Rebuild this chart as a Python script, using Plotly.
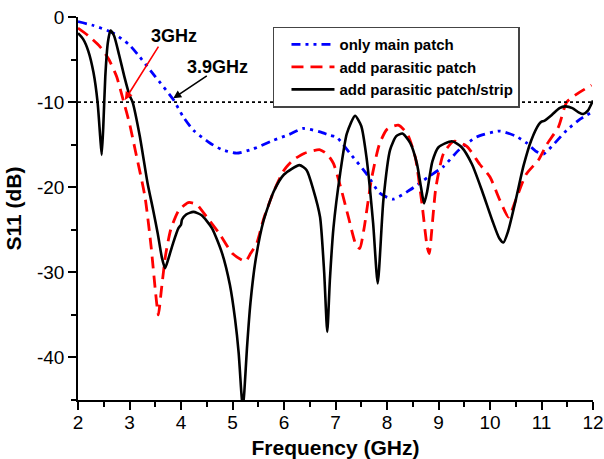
import plotly.graph_objects as go

# ---------------- data ----------------
freq_main = [2.00, 2.30, 2.69, 3.00, 3.20, 3.50, 3.85, 4.04, 4.24, 4.56, 4.80, 5.08,
             5.40, 5.79, 6.10, 6.37, 6.70, 6.89, 7.02, 7.15, 7.28, 7.60, 7.86, 8.12,
             8.45, 8.80, 9.09, 9.40, 9.74, 10.19, 10.50, 10.71, 10.90, 11.04, 11.20,
             11.49, 11.75, 12.00]
s11_main = [-0.55, -1.0, -1.9, -3.3, -4.7, -7.0, -9.7, -11.7, -13.3, -14.8, -15.6, -16.0,
            -15.5, -14.5, -13.8, -13.1, -13.5, -13.9, -14.1, -15.0, -16.0, -18.4, -20.7, -21.4,
            -20.3, -18.8, -17.6, -15.6, -14.1, -13.4, -14.0, -14.8, -15.8, -16.1, -15.2,
            -13.3, -12.0, -11.1]

freq_par = [2.00, 2.20, 2.43, 2.60, 2.75, 2.88, 3.00, 3.11, 3.30, 3.42, 3.50, 3.56,
            3.62, 3.70, 3.80, 3.95, 4.14, 4.30, 4.50, 4.75, 5.00, 5.25, 5.35, 5.47,
            5.60, 5.80, 6.00, 6.18, 6.40, 6.70, 6.85, 6.96, 7.10, 7.25, 7.40, 7.47,
            7.55, 7.70, 7.85, 8.00, 8.22, 8.40, 8.55, 8.68, 8.78, 8.82, 8.87, 8.95,
            9.10, 9.30, 9.55, 9.80, 10.00, 10.19, 10.36, 10.50, 10.70, 10.94, 11.10,
            11.33, 11.49, 11.70, 11.97]
s11_par = [-1.3, -2.2, -3.5, -5.0, -7.0, -9.8, -12.5, -15.6, -21.1, -27.0, -32.0, -35.0,
           -32.0, -28.0, -25.0, -22.8, -21.8, -22.0, -23.5, -25.5, -27.8, -28.7, -27.8, -26.6,
           -23.8, -20.5, -18.0, -16.8, -16.0, -15.6, -16.2, -17.2, -20.0, -23.5, -26.8, -27.2,
           -25.0, -19.0, -15.0, -13.2, -12.7, -13.8, -16.5, -22.0, -27.0, -27.8, -25.0, -20.0,
           -16.0, -14.6, -15.2, -17.3, -18.8, -21.5, -23.5, -21.5, -18.5, -16.8, -15.0,
           -12.9, -10.0, -9.0, -8.0]

freq_strip = [2.00, 2.10, 2.20, 2.30, 2.38, 2.43, 2.46, 2.49, 2.53, 2.58, 2.63, 2.70,
              2.80, 2.90, 3.00, 3.06, 3.20, 3.35, 3.46, 3.55, 3.63, 3.69, 3.75, 3.85,
              3.95, 4.00, 4.02, 4.10, 4.24, 4.40, 4.60, 4.80, 4.95, 5.05, 5.12, 5.17,
              5.20, 5.23, 5.28, 5.35, 5.45, 5.60, 5.80, 6.00, 6.30, 6.44, 6.57, 6.70,
              6.78, 6.84, 6.89, 6.96, 7.09, 7.22, 7.38, 7.50, 7.60, 7.73, 7.82, 7.93,
              8.06, 8.18, 8.30, 8.45, 8.58, 8.66, 8.72, 8.78, 8.88, 9.00, 9.26, 9.45,
              9.65, 9.85, 10.05, 10.18, 10.26, 10.35, 10.50, 10.65, 10.80, 10.95, 11.00,
              11.05, 11.20, 11.35, 11.46, 11.60, 11.72, 11.81, 11.90, 12.00]
s11_strip = [-1.9, -2.6, -4.0, -6.5, -10.0, -14.0, -16.2, -13.0, -7.0, -3.0, -1.6, -2.2,
             -4.5, -7.0, -9.2, -10.0, -14.0, -19.5, -22.7, -25.5, -28.3, -29.5, -28.5, -26.5,
             -24.8, -24.4, -23.8, -23.2, -22.9, -23.3, -24.8, -27.8, -31.5, -35.5, -39.5, -44.0,
             -46.0, -44.0, -39.0, -33.5, -28.5, -24.0, -20.5, -18.5, -17.4, -18.0, -20.3, -23.5,
             -30.0, -37.0, -31.0, -24.8, -18.4, -13.7, -11.6, -12.8, -16.4, -24.2, -31.3, -21.5,
             -15.6, -14.0, -13.7, -14.8, -17.2, -20.0, -21.9, -20.5, -17.0, -15.3, -14.6, -15.3,
             -17.3, -20.5, -24.0, -26.0, -26.5, -25.2, -21.5, -17.5, -14.5, -12.6, -12.3,
             -12.2, -11.5, -10.7, -10.5, -10.7, -11.2, -11.4, -11.0, -9.8]

threshold_db = -10
marker_freqs = [2.91, 3.85]          # where the -10 dB line is crossed
marker_labels = ["3GHz", "3.9GHz"]

x_ticks = [2, 3, 4, 5, 6, 7, 8, 9, 10, 11, 12]
y_ticks = [0, -10, -20, -30, -40]
y_tick_labels = ["0", "-10", "-20", "-30", "-40"]

FONT = "Liberation Sans, Arial, sans-serif"

fig = go.Figure()
fig.add_trace(go.Scatter(
    x=freq_main, y=s11_main, mode="lines", name="only main patch",
    line=dict(color="#0000FF", width=2.8, dash="9px,5px,3px,5px,3px,5px",
              shape="spline", smoothing=0.6)))
fig.add_trace(go.Scatter(
    x=freq_par, y=s11_par, mode="lines", name="add parasitic patch",
    line=dict(color="#FF0000", width=2.8, dash="12px,7px",
              shape="spline", smoothing=0.6)))
fig.add_trace(go.Scatter(
    x=freq_strip, y=s11_strip, mode="lines", name="add parasitic patch/strip",
    line=dict(color="#000000", width=2.6, shape="spline", smoothing=0.6)))

# -10 dB reference line
fig.add_shape(type="line", xref="x", yref="y", x0=x_ticks[0], x1=x_ticks[-1],
              y0=threshold_db, y1=threshold_db,
              line=dict(color="black", width=1.6, dash="dot"))

# arrows and labels
fig.add_annotation(x=marker_freqs[0], y=threshold_db + 0.25, ax=3.58, ay=-3.3,
                   xref="x", yref="y", axref="x", ayref="y", text="",
                   showarrow=True, arrowhead=2, arrowsize=1, arrowwidth=1.6,
                   arrowcolor="#FF0000")
fig.add_annotation(x=marker_freqs[1], y=threshold_db + 0.45, ax=4.53, ay=-6.8,
                   xref="x", yref="y", axref="x", ayref="y", text="",
                   showarrow=True, arrowhead=2, arrowsize=1, arrowwidth=1.6,
                   arrowcolor="#000000")
fig.add_annotation(x=3.86, y=-2.25, xref="x", yref="y", text=marker_labels[0],
                   showarrow=False, font=dict(family=FONT, size=18, color="black", weight="bold"))
fig.add_annotation(x=4.71, y=-5.85, xref="x", yref="y", text=marker_labels[1],
                   showarrow=False, font=dict(family=FONT, size=18, color="black", weight="bold"))

fig.update_layout(
    width=604, height=459,
    margin=dict(l=78, r=11, t=17, b=59, autoexpand=False),
    paper_bgcolor="white", plot_bgcolor="white",
    font=dict(family=FONT, color="black"),
    showlegend=True,
    legend=dict(x=0.3786, y=0.975, xanchor="left", yanchor="top",
                bgcolor="white", bordercolor="#444444", borderwidth=1.5,
                font=dict(family=FONT, size=15, color="black", weight="bold"),
                tracegroupgap=0, itemwidth=43, indentation=12),
    xaxis=dict(range=[2, 12], tickvals=x_ticks, ticks="outside", ticklen=8,
               tickwidth=1.5, tickcolor="black", showline=True, linewidth=1.5,
               linecolor="black", showgrid=False, zeroline=False, automargin=False,
               ticklabelstandoff=-4,
               tickfont=dict(family=FONT, size=19, color="black"),
               minor=dict(ticks="outside", ticklen=5, tickwidth=1.5,
                          tickcolor="black", dtick=0.5, tick0=2, showgrid=False),
               title=dict(text="Frequency (GHz)", standoff=10,
                          font=dict(family=FONT, size=21, color="black", weight="bold"))),
    yaxis=dict(range=[-45, 0], tickvals=y_ticks, ticktext=y_tick_labels,
               ticks="outside", ticklen=8, tickwidth=1.5, tickcolor="black",
               showline=True, linewidth=1.5, linecolor="black", showgrid=False,
               zeroline=False, automargin=False,
               tickfont=dict(family=FONT, size=19, color="black"),
               minor=dict(ticks="outside", ticklen=5, tickwidth=1.5,
                          tickcolor="black", dtick=5, tick0=0, showgrid=False),
               title=dict(text="S11 (dB)", standoff=10,
                          font=dict(family=FONT, size=21, color="black", weight="bold"))),
)

fig.write_html("out.html",
               config={"displayModeBar": False},
               post_script="document.body.style.margin='0';document.body.style.padding='0';"
                           "document.body.style.overflow='hidden';")
